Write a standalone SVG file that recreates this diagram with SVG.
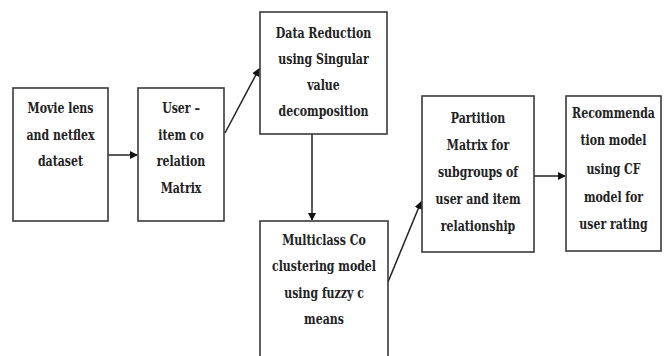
<svg xmlns="http://www.w3.org/2000/svg" width="664" height="356" viewBox="0 0 664 356">
<style>
.box{fill:#fff;stroke:#3a3a3a;stroke-width:1.6}
.t{font-family:'DejaVu Serif Condensed','DejaVu Serif',serif;font-weight:700;font-size:14.5px;fill:#222;text-anchor:middle}
.c{stroke:#222;stroke-width:1.5;fill:none;marker-end:url(#ah)}
</style>
<defs>
<marker id="ah" markerWidth="8" markerHeight="8" refX="7" refY="4" orient="auto" markerUnits="userSpaceOnUse">
<path d="M0,0 L8,4 L0,8 Z" fill="#111"/>
</marker>
</defs>
<rect width="664" height="356" fill="#fff"/>
<g id="connectors">
<line class="c" x1="108" y1="155" x2="137" y2="155"/>
<line class="c" x1="225" y1="133" x2="259" y2="69"/>
<line class="c" x1="312" y1="134" x2="312" y2="220"/>
<line class="c" x1="388" y1="282" x2="421" y2="202"/>
<line class="c" x1="534" y1="176" x2="565" y2="176"/>
</g>
<g id="n1">
<rect class="box" x="13" y="88" width="95" height="133"/>
<g transform="translate(60.5,0) scale(0.84,1)">
<text class="t" x="0" y="113">Movie lens</text>
<text class="t" x="0" y="140">and netflex</text>
<text class="t" x="0" y="166">dataset</text>
</g>
</g>
<g id="n2">
<rect class="box" x="138" y="88" width="86" height="133"/>
<g transform="translate(181,0) scale(0.84,1)">
<text class="t" x="0" y="113">User –</text>
<text class="t" x="0" y="140">item co</text>
<text class="t" x="0" y="166">relation</text>
<text class="t" x="0" y="193">Matrix</text>
</g>
</g>
<g id="n3">
<rect class="box" x="260" y="12" width="127" height="122"/>
<g transform="translate(323.5,0) scale(0.84,1)">
<text class="t" x="0" y="38">Data Reduction</text>
<text class="t" x="0" y="64">using Singular</text>
<text class="t" x="0" y="90">value</text>
<text class="t" x="0" y="116">decomposition</text>
</g>
</g>
<g id="n4">
<rect class="box" x="260" y="221" width="128" height="140"/>
<g transform="translate(324,0) scale(0.84,1)">
<text class="t" x="0" y="245">Multiclass Co</text>
<text class="t" x="0" y="271">clustering model</text>
<text class="t" x="0" y="298">using fuzzy c</text>
<text class="t" x="0" y="324">means</text>
</g>
</g>
<g id="n5">
<rect class="box" x="422" y="96" width="112" height="156"/>
<g transform="translate(478,0) scale(0.84,1)">
<text class="t" x="0" y="123">Partition</text>
<text class="t" x="0" y="150">Matrix for</text>
<text class="t" x="0" y="177">subgroups of</text>
<text class="t" x="0" y="204">user and item</text>
<text class="t" x="0" y="231">relationship</text>
</g>
</g>
<g id="n6">
<rect class="box" x="566" y="96" width="95" height="155"/>
<g transform="translate(613.5,0) scale(0.84,1)">
<text class="t" x="0" y="118">Recommenda</text>
<text class="t" x="0" y="145">tion model</text>
<text class="t" x="0" y="174">using CF</text>
<text class="t" x="0" y="202">model for</text>
<text class="t" x="0" y="229">user rating</text>
</g>
</g>
</svg>
